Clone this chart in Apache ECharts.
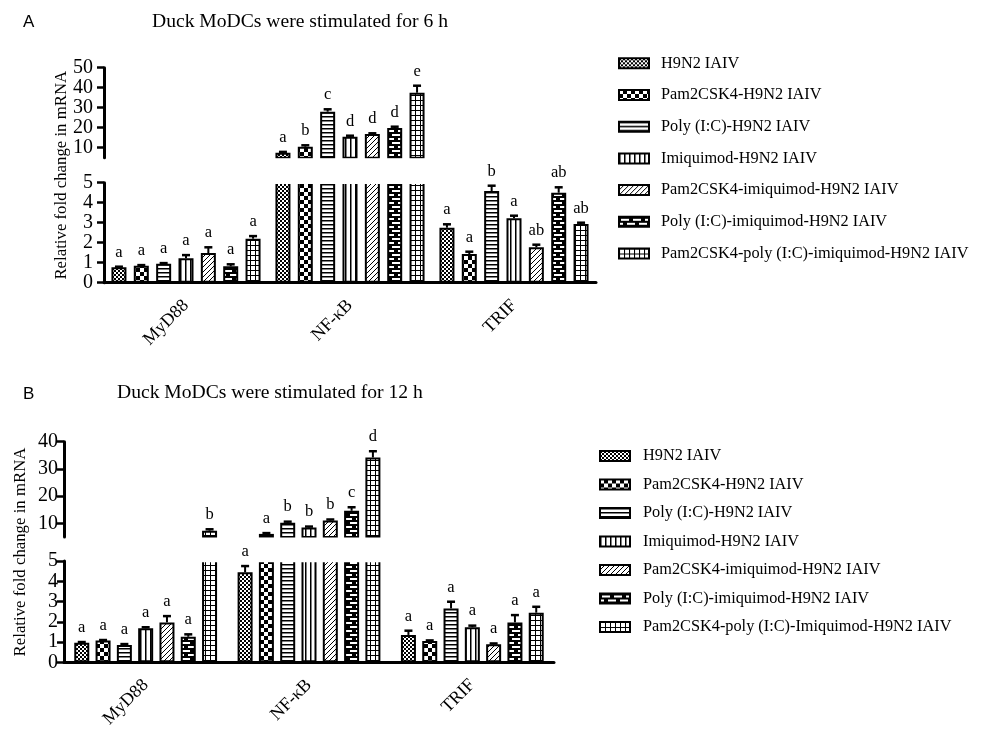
<!DOCTYPE html>
<html>
<head>
<meta charset="utf-8">
<script src="https://cdn.jsdelivr.net/npm/echarts@6/dist/echarts.min.js"></script>
<style>
html,body{margin:0;padding:0;background:#fff;}
#chart{width:984px;height:736px;}
</style>
</head>
<body>
<div id="chart"></div>
<script>
// ---------------- DATA ----------------
const categories = ['MyD88', 'NF-\u03BAB', 'TRIF'];

const groupNamesA = [
  'H9N2 IAIV',
  'Pam2CSK4-H9N2 IAIV',
  'Poly (I:C)-H9N2 IAIV',
  'Imiquimod-H9N2 IAIV',
  'Pam2CSK4-imiquimod-H9N2 IAIV',
  'Poly (I:C)-imiquimod-H9N2 IAIV',
  'Pam2CSK4-poly (I:C)-imiquimod-H9N2 IAIV'
];
const groupNamesB = [
  'H9N2 IAIV',
  'Pam2CSK4-H9N2 IAIV',
  'Poly (I:C)-H9N2 IAIV',
  'Imiquimod-H9N2 IAIV',
  'Pam2CSK4-imiquimod-H9N2 IAIV',
  'Poly (I:C)-imiquimod-H9N2 IAIV',
  'Pam2CSK4-poly (I:C)-Imiquimod-H9N2 IAIV'
];

// Panel A (6 h): mean per group, values for [MyD88, NF-kB, TRIF]
const meanA = [
  [0.77, 7.5, 2.75],
  [0.85, 10.5, 1.43],
  [0.95, 28.0, 4.58],
  [1.22, 15.5, 3.22],
  [1.48, 16.8, 1.77],
  [0.82, 19.8, 4.50],
  [2.20, 37.5, 2.93]
];
const errA = [
  [0.03, 0.4, 0.17],
  [0.03, 0.7, 0.12],
  [0.03, 1.2, 0.27],
  [0.16, 0.5, 0.13],
  [0.29, 0.4, 0.13],
  [0.10, 0.7, 0.27],
  [0.13, 3.5, 0.07]
];
const lettersA = [
  ['a', 'a', 'a'],
  ['a', 'b', 'a'],
  ['a', 'c', 'b'],
  ['a', 'd', 'a'],
  ['a', 'd', 'ab'],
  ['a', 'd', 'ab'],
  ['a', 'e', 'ab']
];

// Panel B (12 h)
const meanB = [
  [0.97, 4.44, 1.35],
  [1.07, 6.1, 1.05],
  [0.85, 10.2, 2.66],
  [1.68, 8.5, 1.73],
  [1.97, 11.0, 0.89],
  [1.26, 14.6, 1.97],
  [7.3, 34.2, 2.45]
];
const errB = [
  [0.03, 0.31, 0.21],
  [0.03, 0.3, 0.03],
  [0.05, 0.4, 0.33],
  [0.05, 0.3, 0.08],
  [0.31, 0.4, 0.04],
  [0.12, 1.3, 0.36],
  [0.5, 2.3, 0.29]
];
const lettersB = [
  ['a', 'a', 'a'],
  ['a', 'a', 'a'],
  ['a', 'b', 'a'],
  ['a', 'b', 'a'],
  ['a', 'b', 'a'],
  ['a', 'c', 'a'],
  ['b', 'd', 'a']
];

const lowerTicks = [0, 1, 2, 3, 4, 5];
const upperTicksA = [10, 20, 30, 40, 50];
const upperTicksB = [10, 20, 30, 40];
const breakValue = 5;

// ---------------- STYLE ----------------
const SERIF = '"Liberation Serif", "Times New Roman", serif';
const SANS = '"Liberation Sans", Arial, sans-serif';

function makePattern(w, h, draw) {
  const c = document.createElement('canvas');
  c.width = w; c.height = h;
  const g = c.getContext('2d');
  g.fillStyle = '#fff'; g.fillRect(0, 0, w, h);
  g.fillStyle = '#000'; g.strokeStyle = '#000';
  draw(g, w, h);
  return { image: c, repeat: 'repeat' };
}
const patterns = [
  makePattern(4, 4, g => { g.fillRect(0, 0, 2, 2); g.fillRect(2, 2, 2, 2); }),
  makePattern(8, 8, g => { g.fillRect(0, 0, 8, 8); g.fillStyle = '#fff'; g.fillRect(0, 0, 4, 4); g.fillRect(4, 4, 4, 4); }),
  makePattern(4, 4, g => { g.fillRect(0, 0, 4, 1.5); }),
  makePattern(5, 4, g => { g.fillRect(0, 0, 1.5, 4); }),
  makePattern(5, 5, g => {
    g.lineWidth = 1; g.beginPath();
    g.moveTo(0, 5); g.lineTo(5, 0);
    g.moveTo(-1, 1); g.lineTo(1, -1);
    g.moveTo(4, 6); g.lineTo(6, 4);
    g.stroke();
  }),
  makePattern(12, 8, g => {
    g.fillRect(0, 0, 12, 8); g.fillStyle = '#fff';
    g.fillRect(2, 2, 8, 2); g.fillRect(0, 6, 4, 2); g.fillRect(8, 6, 4, 2);
  }),
  makePattern(5, 5, g => { g.fillRect(0, 0, 5, 1); g.fillRect(0, 0, 1, 5); })
];

const panels = [
  {
    names: groupNamesA, mean: meanA, err: errA, letters: lettersA,
    left: 104, width: 492,
    upperTop: 67.7, upperH: 90, upperMax: 50, upperTicks: upperTicksA,
    lowerTop: 182.7, lowerH: 100,
    bw: 15, gap: 0.49, labelMargin: 11,
    legendLeft: 618, legendTop: 55.3, legendGap: 15.7, legendPad: 7,
    yNameX: 62, label: 'A', labelX: 23, labelY: 14,
    title: 'Duck MoDCs were stimulated for 6 h', titleX: 152, titleY: 12
  },
  {
    names: groupNamesB, mean: meanB, err: errB, letters: lettersB,
    left: 64, width: 490,
    upperTop: 441.7, upperH: 95.2, upperMax: 40, upperTicks: upperTicksB,
    lowerTop: 561, lowerH: 101.3,
    bw: 15, gap: 0.42, labelMargin: 6,
    legendLeft: 599, legendTop: 448, legendGap: 12.5, legendPad: 8,
    yNameX: 21, label: 'B', labelX: 23, labelY: 386,
    title: 'Duck MoDCs were stimulated for 12 h', titleX: 117, titleY: 383
  }
];

const grid = [], xAxis = [], yAxis = [], series = [], legend = [], title = [], graphic = [];

panels.forEach((p, pi) => {
  const gU = pi * 2, gL = pi * 2 + 1;
  grid.push({ left: p.left, top: p.upperTop, width: p.width, height: p.upperH });
  grid.push({ left: p.left, top: p.lowerTop, width: p.width, height: p.lowerH });

  xAxis.push({ type: 'category', gridIndex: gU, data: categories, show: false });
  xAxis.push({
    type: 'category', gridIndex: gL, data: categories,
    axisLine: { lineStyle: { color: '#000', width: 3 } },
    axisTick: { alignWithLabel: true, length: 7, lineStyle: { color: '#000', width: 2.5 } },
    axisLabel: { rotate: 45, margin: 20, color: '#000', fontSize: 18, fontFamily: SERIF }
  });

  const yCommon = {
    type: 'value',
    splitLine: { show: false },
    axisLine: { show: true, lineStyle: { color: '#000', width: 3 } },
    axisTick: { show: true, length: 7, lineStyle: { color: '#000', width: 2.5 } },
    axisLabel: { color: '#000', fontSize: 20, fontFamily: SERIF, margin: p.labelMargin }
  };
  yAxis.push(Object.assign({}, yCommon, {
    gridIndex: gU, min: breakValue, max: p.upperMax,
    axisTick: Object.assign({}, yCommon.axisTick, { customValues: p.upperTicks }),
    axisLabel: Object.assign({}, yCommon.axisLabel, { customValues: p.upperTicks })
  }));
  yAxis.push(Object.assign({}, yCommon, {
    gridIndex: gL, min: lowerTicks[0], max: lowerTicks[lowerTicks.length - 1], interval: 1
  }));

  // bars
  p.names.forEach((name, i) => {
    const style = { color: patterns[i], borderColor: '#000', borderWidth: 2 };
    series.push({
      type: 'bar', name: name, xAxisIndex: gL, yAxisIndex: gL,
      data: p.mean[i], barWidth: p.bw, barGap: (p.gap * 100) + '%',
      itemStyle: style, clip: true, silent: true, z: 2
    });
    series.push({
      type: 'bar', name: name, xAxisIndex: gU, yAxisIndex: gU,
      data: p.mean[i].map(v => v > breakValue ? v : '-'),
      barWidth: p.bw, barGap: (p.gap * 100) + '%',
      itemStyle: style, clip: true, silent: true, z: 2
    });
  });

  // error bars + letters
  [gU, gL].forEach(gi => {
    const upper = gi === gU;
    const items = [];
    p.mean.forEach((row, i) => row.forEach((v, c) => {
      if ((v > breakValue) === upper) items.push({ value: [c, i, v, p.err[i][c]], letter: p.letters[i][c] });
    }));
    series.push({
      type: 'custom', xAxisIndex: gi, yAxisIndex: gi, silent: true, clip: false, z: 10,
      encode: { x: 0, y: 2 },
      data: items.map(d => d.value),
      renderItem: function (params, api) {
        const it = items[params.dataIndex];
        const base = api.coord([api.value(0), api.value(2)]);
        const top = api.coord([api.value(0), api.value(2) + api.value(3)]);
        const x = base[0] + (api.value(1) - 3) * p.bw * (1 + p.gap);
        return {
          type: 'group',
          children: [
            { type: 'line', shape: { x1: x, y1: base[1], x2: x, y2: top[1] }, style: { stroke: '#000', lineWidth: 2 } },
            { type: 'line', shape: { x1: x - 4, y1: top[1], x2: x + 4, y2: top[1] }, style: { stroke: '#000', lineWidth: 2.5 } },
            { type: 'text', style: { x: x, y: top[1] - 6, text: it.letter, fill: '#000', font: '16.5px ' + SERIF, align: 'center', verticalAlign: 'bottom' } }
          ]
        };
      }
    });
  });

  legend.push({
    orient: 'vertical', left: p.legendLeft, top: p.legendTop, padding: 0,
    itemWidth: 30, itemHeight: 10, itemGap: p.legendGap, icon: 'rect',
    selectedMode: false, data: p.names,
    itemStyle: { borderColor: '#000', borderWidth: 2 },
    textStyle: { color: '#000', fontSize: 16.3, fontFamily: SERIF, lineHeight: 16, padding: [0, 0, 0, p.legendPad] }
  });

  title.push({ text: p.label, left: p.labelX, top: p.labelY, padding: 0,
    textStyle: { fontFamily: SANS, fontSize: 17, fontWeight: 'normal', color: '#000' } });
  title.push({ text: p.title, left: p.titleX, top: p.titleY, padding: 0,
    textStyle: { fontFamily: SERIF, fontSize: 19.6, fontWeight: 'normal', color: '#000' } });

  // white gap between the two axis segments (break)
  graphic.push({
    type: 'rect', z: 5, silent: true,
    shape: { x: p.left + 2, y: p.upperTop + p.upperH + 0.5, width: p.width + 10, height: (p.lowerTop - p.upperTop - p.upperH) + 0.7 },
    style: { fill: '#fff' }
  });
  graphic.push({
    type: 'text', z: 5, silent: true, x: p.yNameX, y: (p.upperTop + p.lowerTop + p.lowerH) / 2, rotation: Math.PI / 2,
    style: { text: 'Relative fold change in mRNA', fill: '#000', font: '16.8px ' + SERIF, align: 'center', verticalAlign: 'middle' }
  });
});

const chart = echarts.init(document.getElementById('chart'), null, { renderer: 'canvas' });
chart.setOption({
  backgroundColor: '#fff',
  animation: false,
  title: title,
  legend: legend,
  grid: grid,
  xAxis: xAxis,
  yAxis: yAxis,
  graphic: graphic,
  series: series
});
</script>
</body>
</html>
